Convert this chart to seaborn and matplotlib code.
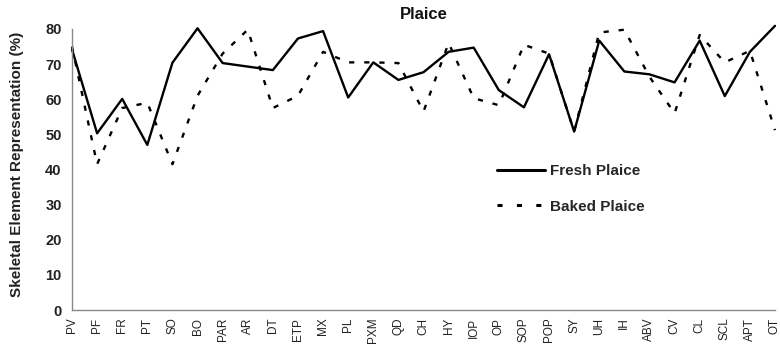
import numpy as np
import pandas as pd
import matplotlib
matplotlib.use("Agg")
import matplotlib.pyplot as plt
import seaborn as sns
from matplotlib.lines import Line2D

categories = ["PV", "PF", "FR", "PT", "SO", "BO", "PAR", "AR", "DT", "ETP", "MX", "PL",
              "PXM", "QD", "CH", "HY", "IOP", "OP", "SOP", "POP", "SY", "UH", "IH", "ABV",
              "CV", "CL", "SCL", "APT", "OT"]
fresh = [74.2, 50.3, 60.1, 47.0, 70.4, 80.2, 70.3, 69.3, 68.3, 77.3, 79.4, 60.5,
         70.5, 65.5, 67.7, 73.5, 74.7, 62.6, 57.7, 72.8, 50.8, 76.7, 67.9, 67.1,
         64.8, 76.7, 60.9, 73.5, 80.9]
baked = [75.0, 41.5, 57.5, 59.0, 41.5, 61.0, 73.0, 79.8, 57.5, 61.0, 73.5, 70.5,
         70.5, 70.3, 56.5, 76.0, 60.3, 58.3, 75.5, 73.0, 50.8, 79.0, 79.8, 66.4,
         56.0, 78.3, 70.5, 73.8, 51.2]
series_names = ["Fresh Plaice", "Baked Plaice"]
yticks = [0, 10, 20, 30, 40, 50, 60, 70, 80]

df = pd.DataFrame({
    "pos": list(range(len(categories))) * 2,
    "value": fresh + baked,
    "series": [series_names[0]] * len(categories) + [series_names[1]] * len(categories),
})

sns.set_style("white")
plt.rcParams["font.family"] = ["Liberation Sans", "DejaVu Sans"]

fig = plt.figure(figsize=(7.8, 3.44), dpi=100)
ax = fig.add_axes([72 / 780, 1 - 310 / 344, (775 - 72) / 780, (310 - 29) / 344])

sns.lineplot(data=df, x="pos", y="value", style="series",
             dashes={series_names[0]: "", series_names[1]: (2.2, 4.2)},
             color="black", linewidth=1.7, ax=ax, legend=False, clip_on=False,
             estimator=None, sort=False)

ax.set_xlim(0, len(categories) - 1)
ax.set_ylim(0, 80)
ax.set_yticks(yticks)
ax.set_yticklabels([str(v) for v in yticks], fontsize=10.5, fontweight="bold", color="#222222")
ax.set_xticks(range(len(categories)))
ax.set_xticklabels(categories, rotation=90, fontsize=8.5, color="#222222")
ax.set_xlabel("")
ax.set_ylabel("Skeletal Element Representation (%)", fontsize=11, fontweight="bold",
              color="#222222")
ax.yaxis.set_label_coords(-0.068, 0.52)
ax.set_title("Plaice", fontsize=12, fontweight="bold", pad=7.5, color="#111111")

for s in ["top", "right"]:
    ax.spines[s].set_visible(False)
for s in ["left", "bottom"]:
    ax.spines[s].set_color("#888888")
    ax.spines[s].set_linewidth(1.0)
ax.tick_params(axis="both", direction="inout", length=5, width=0.8, color="#888888")
ax.tick_params(axis="y", pad=5)
ax.tick_params(axis="x", pad=3)

handles = [Line2D([], [], color="black", lw=2.2),
           Line2D([], [], color="black", lw=2.2, dashes=(1.65, 4.7))]
leg = ax.legend(handles, series_names, loc="upper left", bbox_to_anchor=(0.605, 0.52),
                frameon=False, handlelength=3.15, handletextpad=0.3, labelspacing=1.42,
                borderpad=0, borderaxespad=0,
                prop={"size": 11, "weight": "bold"})

fig.savefig("out.png", dpi=100)
